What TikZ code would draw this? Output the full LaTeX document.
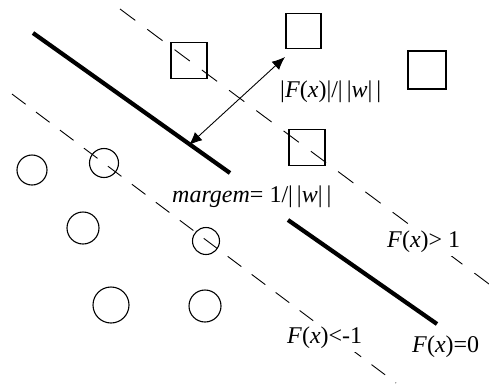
\documentclass[tikz,border=0pt]{standalone}
\usepackage{fontspec}
\setmainfont{Liberation Serif}
\usetikzlibrary{arrows.meta}
\begin{document}
\begin{tikzpicture}[x=1pt,y=-1pt,
  hyper/.style={line width=4.2pt, black},
  marginline/.style={line width=0.9pt, black, dash pattern=on 19pt off 15pt},
  sq/.style={draw, line width=1.2pt, minimum size=#1, inner sep=0pt, fill=none},
  circ/.style={draw, circle, line width=1.1pt, minimum size=#1, inner sep=0pt},
  lbl/.style={inner sep=0pt, anchor=base west, font=\fontsize{24}{28}\selectfont},
  masklbl/.style={lbl, fill=white, inner xsep=3pt, inner ysep=4pt},
  dist/.style={line width=0.9pt, {Latex[length=13pt,width=11pt]}-{Latex[length=13pt,width=11pt]}}
]
\useasboundingbox (0,0) rectangle (489,383);
% dashed margin lines
\coordinate (u1) at (120,9);
\coordinate (u2) at (489,284);
\coordinate (l1) at (12,94);
\coordinate (l2) at (396,383);
\draw[marginline] (u1) -- (u2);
\draw[marginline, dash pattern=on 17pt off 13pt] (l1) -- (l2);
% separating hyperplane
\coordinate (h1) at (33,33);
\coordinate (h2) at (230,173);
\coordinate (h3) at (288,220);
\coordinate (h4) at (437,324);
\draw[hyper] (h1) -- (h2);
\draw[hyper] (h3) -- (h4);
% squares
\node[sq=36pt] (s1) at (189,60.5) {};
\node[sq=35pt] (s2) at (303.5,31) {};
\node[sq=38pt] (s3) at (427,70) {};
\node[sq=36pt] (s4) at (307,147.5) {};
% circles
\node[circ=30pt] (c1) at (32,170) {};
\node[circ=29pt] (c2) at (104,163) {};
\node[circ=32pt] (c3) at (83,228) {};
\node[circ=27pt] (c4) at (206,241) {};
\node[circ=36pt] (c5) at (111,305) {};
\node[circ=32pt] (c6) at (205,306) {};
% distance arrow
\coordinate (a1) at (189,145);
\coordinate (a2) at (285,57);
\draw[dist] (a1) -- (a2);
% labels
\node[lbl] (t1) at (280,97) {|\textit{F}(\textit{x})|/|\,|\textit{w}|\,|};
\node[lbl] (t2) at (172,202) {\textit{margem}= 1/|\,|\textit{w}|\,|};
\node[masklbl] (t3) at (384,247) {\textit{F}(\textit{x})> 1};
\node[masklbl] (t4) at (284,343) {\textit{F}(\textit{x})<-1};
\node[lbl] (t5) at (412,352) {\textit{F}(\textit{x})=0};
\end{tikzpicture}
\end{document}
